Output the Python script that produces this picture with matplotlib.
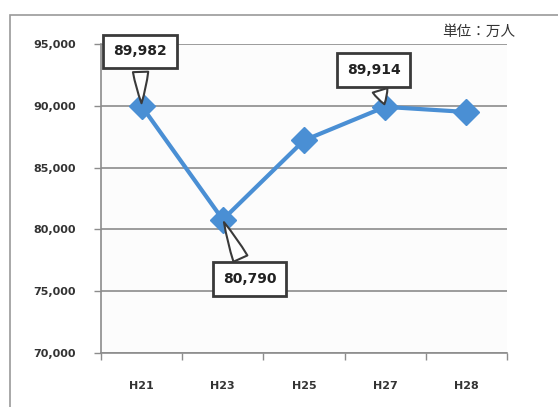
import matplotlib
matplotlib.use('Agg')
import matplotlib.pyplot as plt
from matplotlib.patches import Rectangle
from matplotlib.ticker import FuncFormatter, FixedLocator

plt.rcParams['font.family'] = ['DejaVu Sans', 'Noto Sans CJK JP']

years = ['H21', 'H23', 'H25', 'H27', 'H28']
visitors = [89982, 80790, 87200, 89914, 89500]
y_ticks = [70000, 75000, 80000, 85000, 90000, 95000]
unit_label = '単位：万人'

LINE = '#4a8fd4'
GRID = '#8c8c8c'
TEXT = '#333333'

fig = plt.figure(figsize=(5.58, 4.07), dpi=100, facecolor='white')
fig.patches.append(Rectangle((10 / 558, -0.1), 1.2, 1 - 15 / 407 + 0.1,
                             transform=fig.transFigure, fill=False,
                             edgecolor='#9a9a9a', linewidth=1.2))

ax = fig.add_axes([0.181, 0.1327, 0.7276, 0.7592])
ax.set_facecolor('#fcfcfc')
x = list(range(len(years)))
ax.plot(x, visitors, color=LINE, linewidth=3, marker='D', markersize=13,
        markerfacecolor=LINE, markeredgecolor=LINE, zorder=3)

ax.set_xlim(-0.5, len(years) - 0.5)
ax.set_ylim(y_ticks[0], y_ticks[-1])
ax.set_yticks(y_ticks)
ax.yaxis.set_major_formatter(FuncFormatter(lambda v, p: f'{int(v):,}'))
ax.set_xticks(x)
ax.set_xticklabels(years)
ax.xaxis.set_minor_locator(FixedLocator([i - 0.5 for i in range(len(years) + 1)]))
ax.tick_params(axis='x', which='major', length=0, pad=20, labelsize=8,
               labelcolor=TEXT)
ax.tick_params(axis='x', which='minor', length=5, color=GRID, width=1)
ax.tick_params(axis='y', length=5, color=GRID, width=1, labelsize=8,
               labelcolor=TEXT, pad=13)
for lbl in ax.get_xticklabels() + ax.get_yticklabels():
    lbl.set_fontweight('bold')

ax.grid(axis='y', color=GRID, linewidth=1.2)
ax.set_axisbelow(True)
for side in ['top', 'right']:
    ax.spines[side].set_visible(False)
for side in ['left', 'bottom']:
    ax.spines[side].set_color(GRID)
    ax.spines[side].set_linewidth(1.2)

box = dict(boxstyle='square,pad=0.7', fc='white', ec='#3a3a3a', lw=2)
arrow = dict(arrowstyle='wedge,tail_width=1.1,shrink_factor=0.6',
             fc='white', ec='#3a3a3a', lw=1.5)
# (index, x offset in categories, label y)
callouts = [(0, -0.02, 94400), (1, 0.33, 76000), (3, -0.14, 92900)]
for i, dx, ly in callouts:
    ax.annotate(f'{visitors[i]:,}', xy=(i, visitors[i]), xytext=(i + dx, ly),
                ha='center', va='center', fontsize=10, fontweight='bold',
                color='#222222', bbox=box, arrowprops=arrow, zorder=5)

fig.text(0.923, 0.921, unit_label, ha='right', va='center', fontsize=10.5,
         color=TEXT, family=['Noto Sans CJK JP', 'DejaVu Sans'])

fig.savefig('out.png', dpi=100, facecolor='white')
